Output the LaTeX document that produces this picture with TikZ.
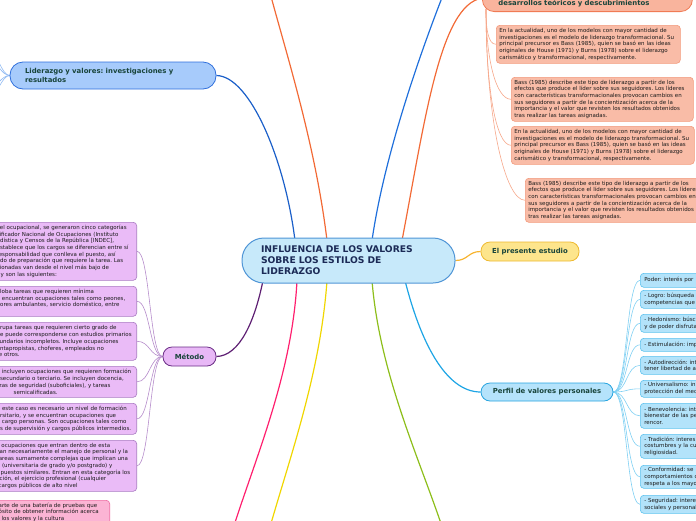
\documentclass[tikz,border=0pt]{standalone}
\usepackage{fontspec}
\setmainfont{DejaVu Sans}
\frenchspacing
\definecolor{orfill}{HTML}{F9BCA7}
\definecolor{orline}{HTML}{F29A7C}
\definecolor{dfill}{HTML}{F9B49D}
\definecolor{dline}{HTML}{F07B55}
\definecolor{pufill}{HTML}{EABBF7}
\definecolor{puline}{HTML}{A97AC2}
\definecolor{mefill}{HTML}{E8B8F6}
\definecolor{meline}{HTML}{6A2D85}
\definecolor{blfill}{HTML}{B3E3FA}
\definecolor{blline}{HTML}{5CC2EE}
\definecolor{pffill}{HTML}{B5E3FB}
\definecolor{pfline}{HTML}{27A4DF}
\definecolor{pkfill}{HTML}{FBB4D4}
\definecolor{pkline}{HTML}{EE6AA2}
\definecolor{ldfill}{HTML}{A7CBFB}
\definecolor{ldline}{HTML}{2F6FDC}
\definecolor{epfill}{HTML}{FDE58C}
\definecolor{epline}{HTML}{EEB92F}
\definecolor{cfill}{HTML}{C7E9FA}
\definecolor{cline}{HTML}{4F95D6}
\definecolor{txt}{HTML}{1A1A1A}
\definecolor{lbl}{HTML}{18443A}
\definecolor{ctxt}{HTML}{1B2A56}
\definecolor{lnor}{HTML}{F26A36}
\definecolor{lnbl}{HTML}{1F6FDB}
\definecolor{lnld}{HTML}{1B5FC9}
\definecolor{lnpu}{HTML}{5E1F73}
\definecolor{lnmg}{HTML}{FF1F6E}
\definecolor{lnye}{HTML}{F0D600}
\definecolor{lngr}{HTML}{8DBE1B}
\definecolor{lnlb}{HTML}{1EA5E5}
\definecolor{lnyo}{HTML}{F7B431}
\definecolor{thor}{HTML}{F6A78A}
\definecolor{thpu}{HTML}{B68CCB}
\definecolor{thbl}{HTML}{7FD0F3}
\definecolor{thld}{HTML}{8FB9F2}
\pgfdeclarelayer{bg}
\pgfsetlayers{bg,main}
\begin{document}
\begin{tikzpicture}[x=1pt,y=-1pt,
  smalltxt/.style={font=\fontsize{5.5}{6.7}\selectfont, text=txt, align=left, inner xsep=3pt, inner ysep=1pt, rounded corners=3.5pt, line width=0.6pt},
  orbox/.style={smalltxt, fill=orfill, draw=orline, anchor=north west},
  pubox/.style={smalltxt, fill=pufill, draw=puline, anchor=north east, text width=137pt},
  pkbox/.style={smalltxt, fill=pkfill, draw=pkline, anchor=north east, text width=108pt},
  blbox/.style={smalltxt, fill=blfill, draw=blline, anchor=north west, inner xsep=4pt, text width=120pt},
  lblfont/.style={font=\fontsize{6.9}{8.2}\selectfont\bfseries, text=lbl},
  pill/.style={lblfont, line width=0.8pt},
  mainline/.style={line width=1.2pt},
  thinline/.style={line width=0.6pt}
]
\useasboundingbox (0,0) rectangle (696,520);
\clip (0,0) rectangle (696,520);

% central
\node[draw=cline, fill=cfill, line width=1pt, rounded corners=22pt, minimum width=213pt, minimum height=45pt, text width=175pt, align=left, font=\fontsize{9.2}{11}\selectfont\bfseries, text=ctxt] (c) at (348.5,260.5) {INFLUENCIA DE LOS VALORES\\SOBRE LOS ESTILOS DE\\LIDERAZGO};

% main branch nodes
\node[pill, fill=ldfill, draw=ldline, rounded corners=13pt, minimum width=206pt, minimum height=27pt, text width=176pt, align=left] (ld) at (113,75.5) {Liderazgo y valores: investigaciones y\\resultados};
\node[pill, fill=mefill, draw=meline, rounded corners=9pt, minimum width=53pt, minimum height=19pt] (me) at (189.5,356.5) {Método};
\node[pill, fill=epfill, draw=epline, rounded corners=9pt, minimum width=98pt, minimum height=19pt] (ep) at (530,251.5) {El presente estudio};
\node[pill, fill=pffill, draw=pfline, rounded corners=9pt, minimum width=132pt, minimum height=18pt] (pf) at (547,392) {Perfil de valores personales};
\node[pill, fill=dfill, draw=dline, anchor=south west, minimum width=210pt, text width=178pt, align=left, text height=18pt, text depth=3pt, inner ysep=3pt, rounded corners=12pt] (d) at (482,12) {desarrollos teóricos y descubrimientos};

% orange children
\node[orbox, text width=178pt, minimum height=38pt] (oA) at (496,25) {En la actualidad, uno de los modelos con mayor cantidad de\\investigaciones es el modelo de liderazgo transformacional. Su\\principal precursor es Bass (1985), quien se basó en las ideas\\originales de House (1971) y Burns (1978) sobre el liderazgo\\carismático y transformacional, respectivamente.};
\node[orbox, text width=176pt, minimum height=44pt] (oB) at (511,77) {Bass (1985) describe este tipo de liderazgo a partir de los\\efectos que produce el líder sobre sus seguidores. Los líderes\\con características transformacionales provocan cambios en\\sus seguidores a partir de la concientización acerca de la\\importancia y el valor que revisten los resultados obtenidos\\tras realizar las tareas asignadas.};
\node[orbox, text width=177pt, minimum height=38pt] (oC) at (511,126) {En la actualidad, uno de los modelos con mayor cantidad de\\investigaciones es el modelo de liderazgo transformacional. Su\\principal precursor es Bass (1985), quien se basó en las ideas\\originales de House (1971) y Burns (1978) sobre el liderazgo\\carismático y transformacional, respectivamente.};
\node[orbox, text width=177pt, minimum height=44pt] (oD) at (525,178) {Bass (1985) describe este tipo de liderazgo a partir de los\\efectos que produce el líder sobre sus seguidores. Los líderes\\con características transformacionales provocan cambios en\\sus seguidores a partir de la concientización acerca de la\\importancia y el valor que revisten los resultados obtenidos\\tras realizar las tareas asignadas.};

% purple children
\node[pubox, minimum height=58pt] (p1) at (137,222) {vel ocupacional, se generaron cinco categorías\\sificador Nacional de Ocupaciones (Instituto\\adística y Censos de la República [INDEC],\\establece que los cargos se diferencian entre sí\\responsabilidad que conlleva el puesto, así\\ado de preparación que requiere la tarea. Las\\cionadas van desde el nivel más bajo de\\\hspace*{4pt}y son las siguientes:};
\node[pubox, minimum height=30pt] (p2) at (137,286) {globa tareas que requieren mínima\\e encuentran ocupaciones tales como peones,\\dores ambulantes, servicio doméstico, entre\\\mbox{}};
\node[pubox, minimum height=38pt] (p3) at (137,322) {grupa tareas que requieren cierto grado de\\ue puede corresponderse con estudios primarios\\cundarios incompletos. Incluye ocupaciones\\entapropistas, choferes, empleados no\\re otros.};
\node[pubox, minimum height=31pt] (p4) at (137,366) {e incluyen ocupaciones que requieren formación\\l secundario o terciario. Se incluyen docencia,\\rzas de seguridad (suboficiales), y tareas\\\hspace*{17pt}semicalificadas.};
\node[pubox, minimum height=31pt] (p5) at (137,403) {n este caso es necesario un nivel de formación\\ersitario, y se encuentran ocupaciones que\\a cargo personas. Son ocupaciones tales como\\os de supervisión y cargos públicos intermedios.};
\node[pubox, minimum height=51pt] (p6) at (137,440) {s ocupaciones que entran dentro de esta\\can necesariamente el manejo de personal y la\\tareas sumamente complejas que implican una\\n (universitaria de grado y/o postgrado) y\\\hspace*{4pt}puestos similares. Entran en esta categoría los\\cción, el ejercicio profesional (cualquier\\\hspace*{2pt}cargos públicos de alto nivel};

% pink
\node[pkbox, minimum height=36pt] (pk) at (110,500) {arte de una batería de pruebas que\\ósito de obtener información acerca\\\hspace*{3pt}los valores y la cultura\\\mbox{}\\\mbox{}};

% blue children
\node[blbox, minimum height=14pt] (k1) at (640,273) {Poder: interés por};
\node[blbox, minimum height=18pt] (k2) at (640,290) {- Logro: búsqueda\\competencias que};
\node[blbox, minimum height=18pt] (k3) at (640,314) {- Hedonismo: búsc\\y de poder disfruta};
\node[blbox, minimum height=13pt] (k4) at (640,338) {- Estimulación: imp};
\node[blbox, minimum height=18pt] (k5) at (640,356) {- Autodirección: int\\tener libertad de a};
\node[blbox, minimum height=17pt] (k6) at (640,380) {- Universalismo: in\\protección del medi};
\node[blbox, minimum height=25pt] (k7) at (640,403) {- Benevolencia: int\\bienestar de las pe\\rencor.};
\node[blbox, minimum height=24pt] (k8) at (640,434) {- Tradición: interes\\costumbres y la cu\\religiosidad.};
\node[blbox, minimum height=23pt] (k9) at (640,465) {- Conformidad: se\\comportamientos c\\respeta a los mayo};
\node[blbox, minimum height=18pt] (k10) at (640,495) {- Seguridad: intere\\sociales y personal};

% off-picture ends
\coordinate (t1) at (268,-15);
\coordinate (t2) at (447,-15);
\coordinate (b1) at (228,545);
\coordinate (b2) at (265,545);
\coordinate (b3) at (448,545);
\coordinate (q1) at (-10,50);
\coordinate (q2) at (-10,60);
\coordinate (q3) at (-10,88);
\coordinate (q4) at (-10,98);

\begin{pgfonlayer}{bg}
\clip (0,0) rectangle (696,520);
\draw[mainline, lnor] ([xshift=-21.5pt,yshift=-3pt]c.north) .. controls (315,140) and (282,40) .. (t1);
\draw[mainline, lnbl] ([xshift=23.5pt,yshift=-3pt]c.north) .. controls (385,150) and (425,40) .. (t2);
\draw[mainline, lnor] ([xshift=53.5pt,yshift=-3pt]c.north) .. controls (425,120) and (440,5) .. (d.west);
\draw[mainline, lnld] ([xshift=-53.5pt,yshift=-3pt]c.north) .. controls (285,160) and (250,76) .. (ld.east);
\draw[mainline, lnpu] ([xshift=-85.5pt,yshift=3pt]c.south) .. controls (255,320) and (240,356) .. (me.east);
\draw[mainline, lnmg] ([xshift=-51.5pt,yshift=3pt]c.south) .. controls (292,380) and (250,470) .. (b1);
\draw[mainline, lnye] ([xshift=-21.5pt,yshift=3pt]c.south) .. controls (320,380) and (285,470) .. (b2);
\draw[mainline, lngr] ([xshift=23.5pt,yshift=3pt]c.south) .. controls (380,380) and (425,470) .. (b3);
\draw[mainline, lnlb] ([xshift=56.5pt,yshift=3pt]c.south) .. controls (420,340) and (445,392) .. (pf.west);
\draw[mainline, lnyo] (c.east) .. controls (468,260.5) and (468,251.5) .. (ep.west);

\foreach \k in {k1,k2,k3,k4,k5,k6,k7,k8,k9,k10}
  \draw[thinline, thbl] (pf.east) .. controls +(14,0) and +(-14,0) .. (\k.west);
\foreach \p in {p1,p2,p3,p4,p5,p6}
  \draw[thinline, thpu] (me.west) .. controls +(-13,0) and +(13,0) .. (\p.east);
\foreach \q in {q1,q2,q3,q4}
  \draw[thinline, thld] (ld.west) .. controls +(-8,0) and +(6,0) .. (\q);
\draw[thinline, thor] ([xshift=4pt,yshift=3pt]d.south west) .. controls +(0,20) and +(-8,0) .. (oA.west);
\draw[thinline, thor] ([xshift=4pt,yshift=3pt]d.south west) .. controls +(0,50) and +(-15,0) .. (oB.west);
\draw[thinline, thor] ([xshift=4pt,yshift=3pt]d.south west) .. controls +(0,80) and +(-15,0) .. (oC.west);
\draw[thinline, thor] ([xshift=4pt,yshift=3pt]d.south west) .. controls +(0,110) and +(-20,0) .. (oD.west);
\end{pgfonlayer}
\end{tikzpicture}
\end{document}
